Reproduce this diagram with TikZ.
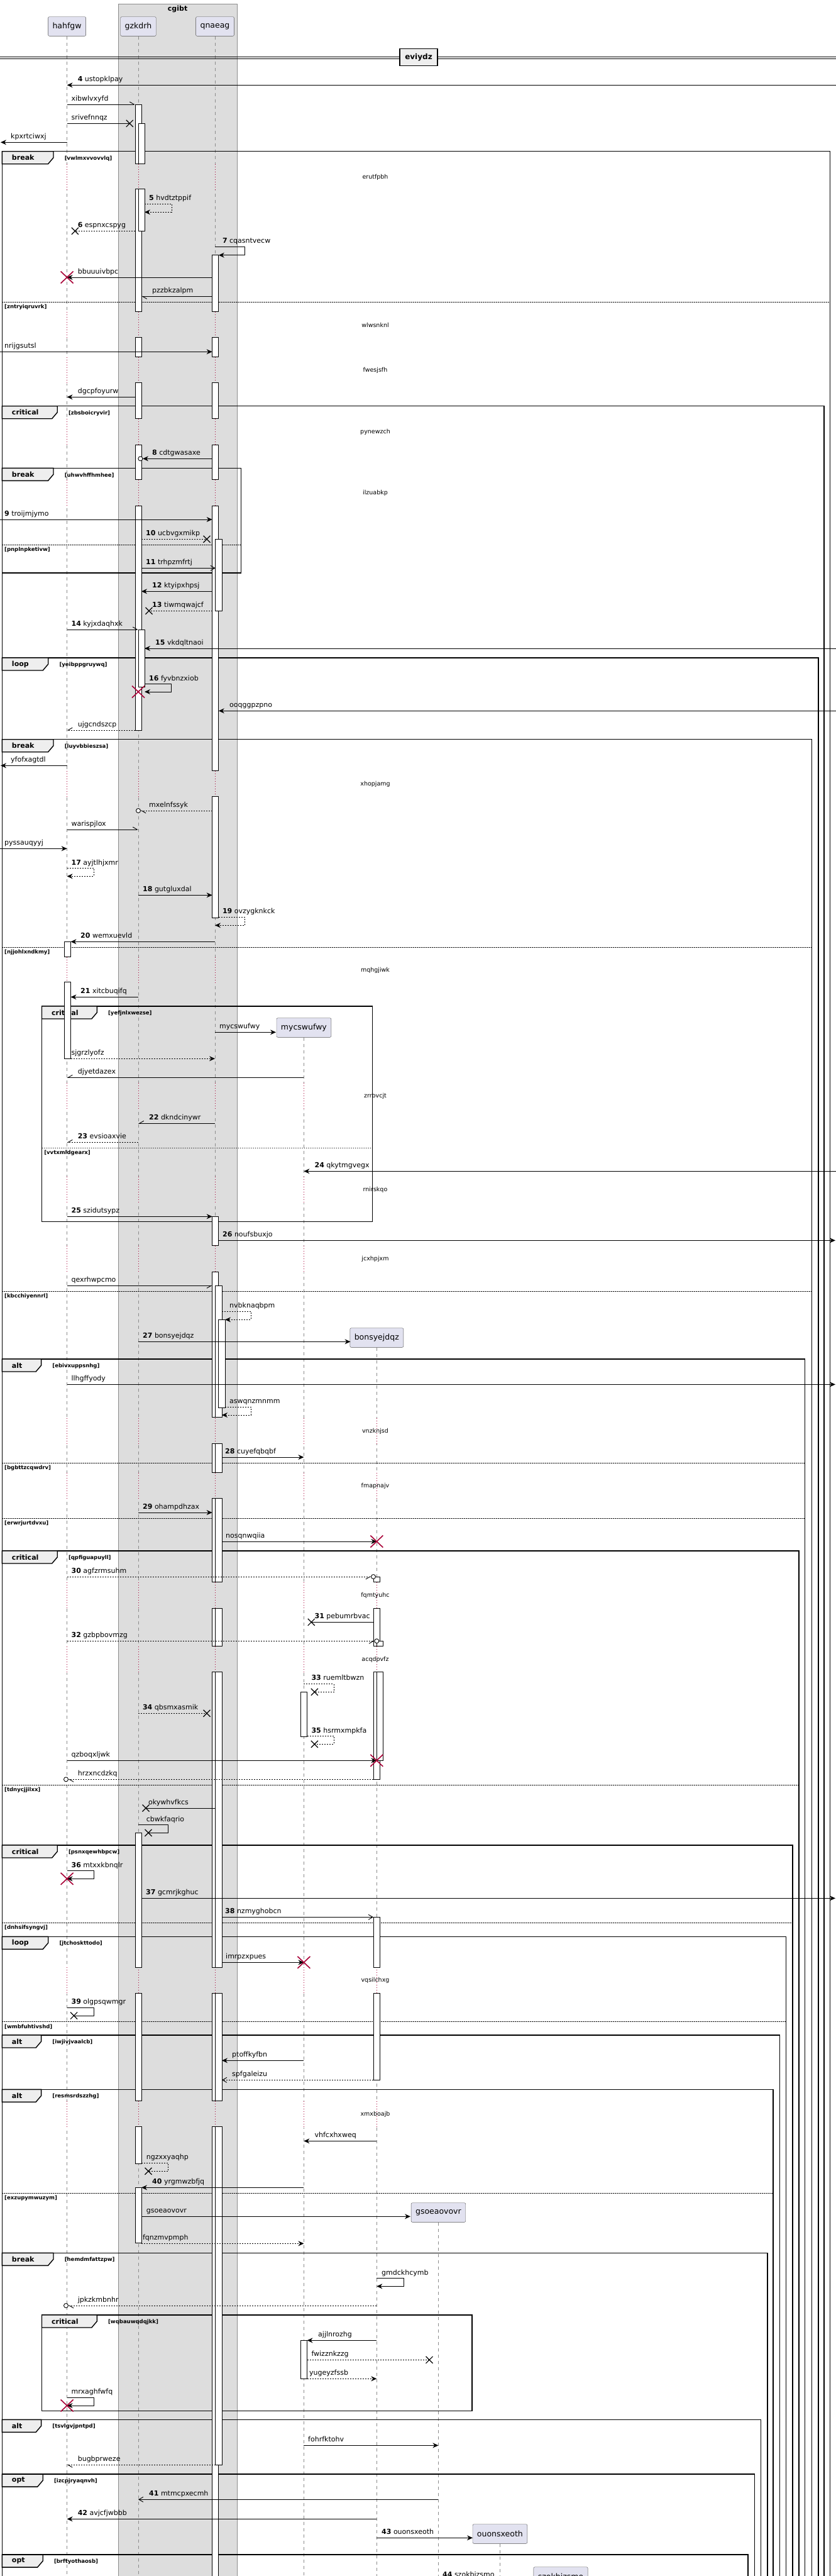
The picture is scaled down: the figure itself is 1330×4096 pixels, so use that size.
\documentclass[tikz,border=0pt]{standalone}
\usepackage{fontspec}
\setmainfont{DejaVu Sans}
\usetikzlibrary{arrows.meta}
\definecolor{boxgray}{HTML}{DDDDDD}
\definecolor{tabgray}{HTML}{EEEEEE}
\definecolor{partfill}{HTML}{E2E2F0}
\definecolor{lifered}{HTML}{A80036}

\begin{document}
\begin{tikzpicture}[x=1pt, y=-1pt,
    participant/.style={draw=black!70, fill=partfill, rounded corners=2pt, minimum height=30.6pt, inner xsep=7pt, inner ysep=0pt, font=\fontsize{12.5}{14}\selectfont},
    life/.style={draw=black!45, dash pattern=on 5pt off 5pt, line width=0.7pt},
    waitline/.style={draw=lifered, dash pattern=on 1pt off 3pt, line width=0.8pt},
    dly/.style={inner sep=0pt, font=\fontsize{9.5}{11}\selectfont},
    lbl/.style={anchor=base west, inner sep=0pt, font=\fontsize{11}{13}\selectfont},
    cnd/.style={anchor=west, inner sep=0pt, font=\bfseries\fontsize{8.5}{10}\selectfont},
    grpframe/.style={draw=black, line width=1.4pt},
    grptab/.style={draw=black, line width=1.4pt, fill=tabgray},
    actbar/.style={draw=black, fill=white, line width=0.8pt},
    sepline/.style={draw=black, line width=0.8pt, dash pattern=on 1.5pt off 1.5pt},
    msg/.style={line width=0.9pt, -{Stealth[length=9pt,width=8pt,inset=3pt]}},
    retmsg/.style={msg, dash pattern=on 2pt off 2pt},
    openmsg/.style={line width=0.9pt, -{Straight Barb[length=7pt,width=8pt]}},
    halfmsg/.style={line width=0.9pt, -{Straight Barb[harpoon,length=7pt,width=8pt]}},
    halfswapmsg/.style={line width=0.9pt, -{Straight Barb[harpoon,swap,length=7pt,width=8pt]}},
    dashy/.style={dash pattern=on 2pt off 2pt},
    plainmsg/.style={line width=0.9pt},
    xmark/.style={draw=black, line width=1.2pt},
    destroy/.style={draw=lifered, line width=1.6pt}
  ]
  \useasboundingbox (0,0) rectangle (1330,4096);
  \fill[white] (0,0) rectangle (1330,4096);

  \draw[draw=black!45, fill=boxgray] (188.4,6) rectangle (376.8,4130);
  \node[font=\bfseries\fontsize{11}{13}\selectfont] (cgibt) at (282.6,15) {cgibt};

  \node[participant] (hahfgw) at (106.6,42) {hahfgw};
  \node[participant] (gzkdrh) at (220,42) {gzkdrh};
  \node[participant] (qnaeag) at (342,42) {qnaeag};
  \node[participant] (mycswufwy) at (483.4,1634) {mycswufwy};
  \node[participant] (bonsyejdqz) at (599.3,2127) {bonsyejdqz};
  \node[participant] (gsoeaovovr) at (697.4,3518) {gsoeaovovr};
  \node[participant] (ouonsxeoth) at (795.4,4029) {ouonsxeoth};
  \node[participant] (szokbizsmo) at (892,4097) {szokbizsmo};

  \foreach \n/\x in {hahfgw/106.6, gzkdrh/220, qnaeag/342, mycswufwy/483.4, bonsyejdqz/599.3, gsoeaovovr/697.4, ouonsxeoth/795.4}
    \draw[life] (\n.south) -- (\x,4110);

  \draw[line width=0.9pt] (0,90) -- (1330,90) (0,93.3) -- (1330,93.3);
  \node[draw, line width=1.4pt, fill=tabgray, minimum width=60pt, minimum height=26.6pt, inner sep=0pt, font=\bfseries\fontsize{12}{14}\selectfont] (eviydz) at (666,91) {eviydz};

  \foreach \t in {1743.3, 1892.3, 2002.3, 2275.7, 2363.3, 2537.3, 2639, 3149.3, 3362.3} {
    \fill[white] (481.4,\t-21) rectangle (485.4,\t+20.5);
    \draw[waitline] (483.4,\t-21) -- (483.4,\t+20.5);
  }
  \foreach \t in {2275.7, 2363.3, 2537.3, 2639, 3149.3, 3362.3} {
    \fill[white] (597.3,\t-21) rectangle (601.3,\t+20.5);
    \draw[waitline] (599.3,\t-21) -- (599.3,\t+20.5);
  }
  \foreach \t/\txt in {281.7/erutfpbh, 517.3/wlwsnknl, 589.3/fwesjsfh, 687.3/pynewzch, 784.3/ilzuabkp, 1246.7/xhopjamg, 1543.3/mqhgjiwk, 1743.3/zrrbvcjt, 1892.3/rnirskqo, 2002.3/jcxhpjxm, 2275.7/vnzknjsd, 2363.3/fmapnajv, 2537.3/fqmtyuhc, 2639/acqdpvfz, 3149.3/vqsilchxg, 3362.3/xmxboajb} {
    \fill[white] (104.6,\t-21) rectangle (108.6,\t+20.5);
    \fill[boxgray] (218,\t-21) rectangle (222,\t+20.5) (340,\t-21) rectangle (344,\t+20.5);
    \foreach \x in {106.6,220,342}
      \draw[waitline] (\x,\t-21) -- (\x,\t+20.5);
    \node[dly] (delay \txt) at (597,\t) {\txt};
  }

  \foreach \kind/\tw/\xl/\top/\right/\bottom/\cond in {
      break/81.6/3.4/240.7/1320.5/4130/vwlmxvvovvlq,
      critical/87.8/3.4/645.7/1311/4130/zbsboicryvir,
      break/81.6/3.4/744.3/383.6/911/uhwvhffhmhee,
      loop/73.3/3.4/1046/1301.8/4130/yeibppgruywq,
      break/81.6/3.4/1175.7/1291.6/4130/luyvbbieszsa,
      critical/87.8/66.5/1600/592.5/1942.3/yefjnlxwezse,
      alt/62.2/3.4/2161/1280.5/4130/ebivxuppsnhg,
      critical/87.8/3.4/2466/1271/4130/qpfiguapuyll,
      critical/87.8/3.4/2934/1261/4130/psnxqewhbpcw,
      loop/73.3/3.4/3079.3/1250.6/4130/jtchoskttodo,
      alt/62.2/3.4/3236/1240.4/4130/iwjivjvaalcb,
      alt/62.2/3.4/3322.3/1230/4130/resmsrdszzhg,
      break/81.6/3.4/3582.3/1220.8/4130/hemdmfattzpw,
      critical/87.8/66.5/3681/751/3833.3/wqbauwqdqjkk,
      alt/62.2/3.4/3847.3/1210.6/4130/tsvlgvjpntpd,
      opt/64.8/3.4/3934/1200.3/4130/izcpjryaqnvh,
      opt/64.8/3.4/4062/1190/4130/brftyothaosb} {
    \draw[grpframe] (\xl,\top) rectangle (\right,\bottom);
    \draw[grptab] (\xl,\top) -- (\xl+\tw,\top) -- (\xl+\tw,\top+10) -- (\xl+\tw-8.5,\top+20) -- (\xl,\top+20) -- cycle;
    \node[anchor=west, inner sep=0pt, font=\bfseries\fontsize{11}{13}\selectfont] at (\xl+15.4,\top+10) {\kind};
    \node[cnd] at (\xl+\tw+17.6,\top+11.3) {[\cond]};
  }

  \foreach \y/\xa/\xb/\cond in {480.3/3.4/1320.5/zntryiqruvrk, 866.3/3.4/383.6/pnplnpketivw, 1506/3.4/1291.6/njjohlxndkmy, 1825.3/66.5/592.5/vvtxmldgearx, 2053.3/3.4/1291.6/kbcchiyennrl, 2326/3.4/1280.5/bgbttzcqwdrv, 2414/3.4/1280.5/erwrjurtdvxu, 2838/3.4/1271/tdnycjjilxx, 3057.3/3.4/1261/dnhsifsyngvj, 3214.3/3.4/1250.6/wmbfuhtivshd, 3487.3/3.4/1230/exzupymwuzym} {
    \draw[sepline] (\xa,\y) -- (\xb,\y);
    \node[cnd] at (\xa+3.6,\y+8) {[\cond]};
  }

  \foreach \x/\ya/\yb in {
      220/166/260, 220/300.7/495.7, 220/536.7/567.7, 220/608.7/665, 220/707.3/762.3, 220/804/1161,
      225/196.3/260, 225/300.7/367.3, 225/1001/1092.7,
      342.7/405.7/495.7, 342.7/536.7/567.7, 342.7/608.7/665, 342.7/707.3/762.3, 342.7/804/1225.7, 342.7/1266/1459,
      347.8/857.3/971.3,
      107.4/1497.3/1521.7, 107.4/1561.7/1683.3,
      342.7/1934.3/1980, 342.7/2022.3/2253.3, 342.7/2295/2341.7, 342.7/2382.3/2515, 342.7/2557.3/2617.3, 342.7/2658.7/3128.3, 342.7/3169/3340, 342.7/3381.7/4120,
      347.8/2044.3/2253.3, 347.8/2295/2341.7, 347.8/2382.3/2515, 347.8/2557.3/2617.3, 347.8/2658.7/3128.3, 347.8/3169/3340, 347.8/3381.7/3919.3,
      352.9/2098.3/2238.3,
      599.2/2507/2515, 599.2/2557.3/2617.3, 599.2/2658.7/2829.3,
      604.4/2609.3/2617.3, 604.4/2658.7/2799.3,
      483.4/2690.3/2761, 483.4/3721.3/3782.3,
      220/2914.3/3128.3, 220/3169/3340, 220/3381.7/3440, 220/3478.7/3566.7,
      599.2/3048.3/3128.3, 599.2/3169/3307.3}
    \draw[actbar] (\x-5.1,\ya) rectangle (\x+5.1,\yb);

  \foreach \xa/\xb/\y/\lx/\txt in {
      1330/106.6/135.3/123.6/{\textbf{4} ustopklpay},
      106.6/1/226.3/17/kpxrtciwxj,
      337.6/106.6/441/123.6/bbuuuivbpc,
      0/337.6/559.3/7/nrijgsutsl,
      215/106.6/631.3/123.6/dgcpfoyurw,
      0/337.6/826/7/{\textbf{9} troijmjymo},
      337.6/225/940.3/242/{\textbf{12} ktyipxhpsj},
      1330/230/1031/247/{\textbf{15} vkdqltnaoi},
      1330/347.8/1130.3/365/ooqggpzpno,
      106.6/1/1217.3/17/yfofxagtdl,
      0/106.6/1349.3/7/pyssauqyyj,
      220/337.6/1423.3/227/{\textbf{18} gutgluxdal},
      342/112.5/1497.3/128/{\textbf{20} wemxuevld},
      220/112.5/1585.3/128/{\textbf{21} xitcbuqifq},
      342/439/1641.3/349/mycswufwy,
      1330/483.4/1862.3/500.4/{\textbf{24} qkytmgvegx},
      106.6/337.6/1934.3/113.4/{\textbf{25} szidutsypz},
      347.8/1329/1972.3/354/{\textbf{26} noufsbuxjo},
      220/557.5/2133.3/227/{\textbf{27} bonsyejdqz},
      106.6/1329/2201.3/113.4/llhgffyody,
      353/483.4/2317/358/{\textbf{28} cuyefqbqbf},
      220/337.6/2405/227/{\textbf{29} ohampdhzax},
      353/599.3/2451/359/nosqnwqiia,
      106.6/599.3/2799.3/113.4/qzboqxljwk,
      225/1329/3018.3/232/{\textbf{37} gcmrjkghuc},
      353/483.4/3120.3/359/imrpzxpues,
      483.4/353/3276.3/369/ptoffkyfbn,
      599.3/483.4/3404.3/500.4/vhfcxhxweq,
      483.4/225/3478.3/242/{\textbf{40} yrgmwzbfjq},
      225/653/3524.3/232.7/gsoeaovovr,
      599.3/488.5/3721.3/506/ajjlnrozhg,
      483.4/697.4/3888.3/490/fohrfktohv,
      599.3/106.6/4005.3/123.6/{\textbf{42} avjcfjwbbb},
      599.3/752/4035.3/607/{\textbf{43} ouonsxeoth},
      697.4/849/4102.5/704/{\textbf{44} szokbizsmo}} {
    \draw[msg] (\xa,\y) -- (\xb,\y);
    \node[lbl] at (\lx,\y-5.5) {\txt};
  }

  \foreach \xa/\xb/\y/\lx/\txt in {112.5/342/1683.3/113.4/sjgrzlyofz, 225/483.4/3567.3/226.8/fqnzmvpmph, 488.5/599.3/3782.3/492/yugeyzfssb} {
    \draw[retmsg] (\xa,\y) -- (\xb,\y);
    \node[lbl] at (\lx,\y-5.5) {\txt};
  }

  \foreach \xa/\xb/\y/\lx/\txt in {225/342.7/903.3/232/{\textbf{11} trhpzmfrtj}, 353/594/3048.3/358/{\textbf{38} nzmyghobcn}, 697.4/220/3974.3/237/{\textbf{41} mtmcpxecmh}} {
    \draw[openmsg] (\xa,\y) -- (\xb,\y);
    \node[lbl] at (\lx,\y-5.5) {\txt};
  }
  \draw[openmsg, dashy] (594,3307.3) -- (353,3307.3);
  \node[lbl] at (369,3301.8) {spfgaleizu};

  \foreach \xa/\xb/\y/\lx/\txt in {106.6/215/166/113.4/xibwlvxyfd, 337.6/225/471.3/242/pzzbkzalpm, 106.6/220/1001/113.4/{\textbf{14} kyjxdaqhxk}, 106.6/220/1319/113.4/warispjlox} {
    \draw[halfmsg] (\xa,\y) -- (\xb,\y);
    \node[lbl] at (\lx,\y-5.5) {\txt};
  }
  \foreach \xa/\xb/\y/\lx/\txt in {483.4/106.6/1713.3/123.6/djyetdazex, 342/220/1786.3/237/{\textbf{22} dkndcinywr}, 106.6/337.6/2044.3/113.4/qexrhwpcmo} {
    \draw[halfswapmsg] (\xa,\y) -- (\xb,\y);
    \node[lbl] at (\lx,\y-5.5) {\txt};
  }
  \foreach \xa/\xb/\y/\lx/\txt in {215/106.6/1161/123.6/ujgcndszcp, 220/106.6/1816.3/123.6/{\textbf{23} evsioaxvie}} {
    \draw[halfswapmsg, dashy] (\xa,\y) -- (\xb,\y);
    \node[lbl] at (\lx,\y-5.5) {\txt};
  }
  \draw[halfmsg, dashy] (342.7,3919.3) -- (106.6,3919.3);
  \node[lbl] at (123.6,3913.8) {bugbprweze};

  \draw[msg] (337.6,729.3) -- (227,729.3);
  \draw[fill=white, line width=0.9pt] (223.4,729.3) circle [radius=3.5pt];
  \node[lbl] at (242,723.8) {\textbf{8} cdtgwasaxe};
  \draw[halfmsg, dashy] (337.6,1289) -- (223.5,1289);
  \draw[fill=white, line width=0.9pt] (220,1289) circle [radius=3.5pt];
  \node[lbl] at (237,1283.5) {mxelnfssyk};
  \draw[halfswapmsg, dashy] (106.6,2507) -- (590.5,2507);
  \draw[fill=white, line width=0.9pt] (594,2507) circle [radius=3.5pt];
  \node[lbl] at (113.4,2501.5) {\textbf{30} agfzrmsuhm};
  \draw[halfswapmsg, dashy] (106.6,2609.3) -- (595.8,2609.3);
  \draw[fill=white, line width=0.9pt] (599.3,2609.3) circle [radius=3.5pt];
  \node[lbl] at (113.4,2603.8) {\textbf{32} gzbpbovmzg};
  \draw[halfmsg, dashy] (594,2829.3) -- (108.5,2829.3);
  \draw[fill=white, line width=0.9pt] (105,2829.3) circle [radius=3.5pt];
  \node[lbl] at (123.6,2823.8) {hrzxncdzkq};
  \draw[halfmsg, dashy] (599.3,3666) -- (108.5,3666);
  \draw[fill=white, line width=0.9pt] (105,3666) circle [radius=3.5pt];
  \node[lbl] at (123.6,3660.5) {jpkzkmbnhr};

  \foreach \xa/\xc/\y/\lx/\txt in {106.6/206.3/196.3/113.4/srivefnnqz, 594/495.3/2579.3/500.4/{\textbf{31} pebumrbvac}, 342/232/2875/236/okywhvfkcs} {
    \draw[plainmsg] (\xa,\y) -- (\xc,\y);
    \draw[xmark] (\xc-5.5,\y-5.5) -- (\xc+5.5,\y+5.5) (\xc-5.5,\y+5.5) -- (\xc+5.5,\y-5.5);
    \node[lbl] at (\lx,\y-5.5) {\txt};
  }
  \foreach \xa/\xc/\y/\lx/\txt in {215/119.4/367.3/123.6/{\textbf{6} espnxcspyg}, 225/329/857.3/232/{\textbf{10} ucbvgxmikp}, 337.6/237/971.3/242/{\textbf{13} tiwmqwajcf}, 220/329/2724.3/226.8/{\textbf{34} qbsmxasmik}, 488.5/683/3752.3/495.3/fwizznkzzg} {
    \draw[plainmsg, dashy] (\xa,\y) -- (\xc,\y);
    \draw[xmark] (\xc-5.5,\y-5.5) -- (\xc+5.5,\y+5.5) (\xc-5.5,\y+5.5) -- (\xc+5.5,\y-5.5);
    \node[lbl] at (\lx,\y-5.5) {\txt};
  }

  \foreach \xa/\xr/\yt/\yb/\xb/\lx/\txt in {
      342/389.6/392.3/405.7/347.8/353.8/{\textbf{7} cqasntvecw},
      230/272.8/1087.7/1100/230/237/{\textbf{16} fyvbnzxiob},
      106.6/149/2974.7/2987.3/106.6/113.4/{\textbf{36} mtxxkbnqlr},
      599.3/642/3622.7/3635.3/599.3/607/gmdckhcymb,
      106.6/149/3812.3/3825/106.6/113.4/mrxaghfwfq} {
    \draw[msg] (\xa,\yt) -- (\xr,\yt) -- (\xr,\yb) -- (\xb,\yb);
    \node[lbl] at (\lx,\yt-5.5) {\txt};
  }
  \foreach \xa/\xr/\yt/\yb/\xb/\lx/\txt in {
      230/273/324/337.3/230/237/{\textbf{5} hvdtztppif},
      106.6/149/1380.7/1393.3/106.6/113.4/{\textbf{17} ayjtlhjxmr},
      347.8/389.6/1458.3/1471.3/342/353.8/{\textbf{19} ovzygknkck},
      353/399/2085.3/2098.3/358/365/nvbknaqbpm,
      358/399/2237.3/2250/353/365/aswqnzmnmm} {
    \draw[retmsg] (\xa,\yt) -- (\xr,\yt) -- (\xr,\yb) -- (\xb,\yb);
    \node[lbl] at (\lx,\yt-5.5) {\txt};
  }
  \foreach \xa/\xr/\yt/\yb/\xc/\lx/\txt in {
      220/267.7/2901.7/2914.3/236/232.7/cbwkfaqrio,
      106.6/149/3192.3/3205/117.6/113.4/{\textbf{39} olgpsqwmgr}} {
    \draw[plainmsg] (\xa,\yt) -- (\xr,\yt) -- (\xr,\yb) -- (\xc,\yb);
    \draw[xmark] (\xc-5.5,\yb-5.5) -- (\xc+5.5,\yb+5.5) (\xc-5.5,\yb+5.5) -- (\xc+5.5,\yb-5.5);
    \node[lbl] at (\lx,\yt-5.5) {\txt};
  }
  \foreach \xa/\xr/\yt/\yb/\xc/\lx/\txt in {
      483.4/531/2677.3/2690.3/500.4/495.3/{\textbf{33} ruemltbwzn},
      488.5/531/2760.7/2773.3/500.4/495.3/{\textbf{35} hsrmxmpkfa},
      225/267.7/3439.3/3452.3/236/232.7/ngzxxyaqhp} {
    \draw[plainmsg, dashy] (\xa,\yt) -- (\xr,\yt) -- (\xr,\yb) -- (\xc,\yb);
    \draw[xmark] (\xc-5.5,\yb-5.5) -- (\xc+5.5,\yb+5.5) (\xc-5.5,\yb+5.5) -- (\xc+5.5,\yb-5.5);
    \node[lbl] at (\lx,\yt-5.5) {\txt};
  }

  \foreach \x/\y in {106.6/441, 220/1100, 599.3/2451, 599.3/2799.3, 106.6/2987.3, 483.4/3120.3, 106.6/3825}
    \draw[destroy] (\x-10,\y-9.5) -- (\x+10,\y+9.5) (\x-10,\y+9.5) -- (\x+10,\y-9.5);
\end{tikzpicture}
\end{document}
